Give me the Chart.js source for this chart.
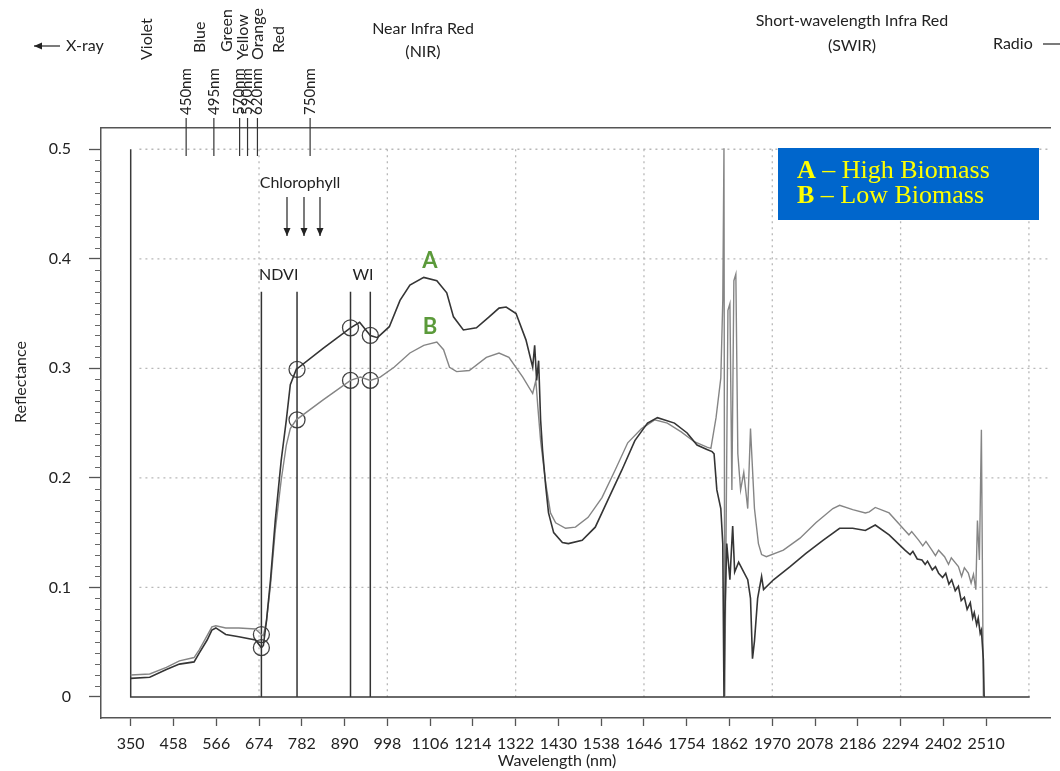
<!DOCTYPE html>
<html>
<head>
<meta charset="utf-8">
<title>Reflectance spectrum - high vs low biomass</title>
<script src="https://cdn.jsdelivr.net/npm/chart.js@4.4.1/dist/chart.umd.min.js"></script>
<style>
  html, body { margin: 0; padding: 0; background: #fff; }
  #wrap { width: 1060px; height: 771px; position: relative; }
</style>
</head>
<body>
<div id="wrap"><canvas id="spectrumChart"></canvas></div>
<script>
// ---------------- DATA -----------------------------
const xTickValues = [350, 458, 566, 674, 782, 890, 998, 1106, 1214, 1322, 1430, 1538, 1646, 1754, 1862, 1970, 2078, 2186, 2294, 2402, 2510];
const yTickValues = [0, 0.1, 0.2, 0.3, 0.4, 0.5];
const gridLinesX = [674, 998, 1322, 1646, 1970, 2294, 2618];
const gridLinesY = [0.1, 0.2, 0.3, 0.4, 0.5];

// A - high biomass
const wavelengthA = [350, 398, 440, 473, 510, 523, 543, 555, 565, 590, 623, 665, 680, 685, 693, 703, 715, 730, 743, 753,
  768, 835, 905, 928, 955, 973, 1003, 1030, 1055, 1090, 1123, 1148, 1165, 1190, 1223, 1255, 1280, 1298, 1323, 1348,
  1365, 1370, 1375, 1380, 1385, 1390, 1398, 1405, 1418, 1440, 1455, 1490, 1523, 1555, 1590, 1623, 1655, 1680, 1723, 1755,
  1780, 1805, 1818, 1823, 1830, 1840, 1845, 1848, 1850, 1855, 1863, 1870, 1875, 1885, 1898, 1908, 1915, 1920, 1925, 1933,
  1943, 1948, 1973, 2015, 2055, 2098, 2140, 2173, 2205, 2230, 2265, 2305, 2318, 2325, 2336, 2348, 2356, 2362, 2374, 2382,
  2390, 2400, 2408, 2416, 2423, 2432, 2440, 2447, 2455, 2462, 2470, 2476, 2480, 2486, 2490, 2495, 2498, 2503, 2505];
const reflectanceA = [0.017, 0.018, 0.025, 0.030, 0.032, 0.040, 0.052, 0.061, 0.063, 0.057, 0.055, 0.052, 0.045, 0.047, 0.070, 0.107, 0.161, 0.216, 0.253, 0.285,
  0.299, 0.318, 0.337, 0.342, 0.330, 0.328, 0.338, 0.362, 0.376, 0.383, 0.380, 0.369, 0.347, 0.335, 0.337, 0.347, 0.355, 0.356, 0.350, 0.326,
  0.301, 0.321, 0.289, 0.307, 0.253, 0.225, 0.192, 0.168, 0.150, 0.141, 0.140, 0.143, 0.155, 0.180, 0.207, 0.234, 0.250, 0.255, 0.250, 0.241,
  0.230, 0.226, 0.224, 0.222, 0.189, 0.172, 0.140, 0, 0.071, 0.140, 0.107, 0.156, 0.114, 0.123, 0.114, 0.107, 0.090, 0.035, 0.051, 0.090,
  0.110, 0.098, 0.107, 0.119, 0.131, 0.143, 0.154, 0.154, 0.152, 0.157, 0.148, 0.134, 0.130, 0.133, 0.126, 0.125, 0.121, 0.124, 0.116, 0.119,
  0.113, 0.109, 0.113, 0.103, 0.107, 0.097, 0.101, 0.088, 0.091, 0.080, 0.086, 0.072, 0.077, 0.066, 0.072, 0.058, 0.061, 0.034, 0];

// B - low biomass
const wavelengthB = [350, 398, 440, 473, 510, 523, 543, 555, 565, 590, 623, 665, 680, 685, 693, 703, 715, 730, 743, 753,
  768, 835, 905, 930, 955, 980, 1015, 1055, 1090, 1123, 1140, 1155, 1173, 1205, 1248, 1280, 1305, 1340, 1365, 1373,
  1378, 1385, 1398, 1410, 1423, 1448, 1473, 1505, 1540, 1573, 1605, 1640, 1673, 1705, 1740, 1773, 1805, 1815, 1828, 1840,
  1845, 1848, 1850, 1858, 1863, 1868, 1873, 1878, 1883, 1890, 1898, 1908, 1915, 1925, 1935, 1943, 1955, 1998, 2040, 2080,
  2123, 2140, 2173, 2205, 2215, 2230, 2265, 2305, 2315, 2322, 2340, 2350, 2358, 2373, 2382, 2390, 2405, 2415, 2422, 2440,
  2448, 2455, 2465, 2472, 2478, 2484, 2488, 2493, 2498, 2503];
const reflectanceB = [0.020, 0.021, 0.027, 0.033, 0.036, 0.043, 0.056, 0.064, 0.065, 0.063, 0.063, 0.062, 0.057, 0.056, 0.070, 0.102, 0.152, 0.198, 0.230, 0.245,
  0.253, 0.271, 0.289, 0.292, 0.289, 0.292, 0.301, 0.314, 0.321, 0.324, 0.317, 0.301, 0.297, 0.298, 0.310, 0.314, 0.310, 0.292, 0.277, 0.289,
  0.265, 0.234, 0.195, 0.168, 0.159, 0.154, 0.155, 0.164, 0.182, 0.207, 0.232, 0.245, 0.253, 0.250, 0.242, 0.233, 0.228, 0.227, 0.255, 0.291,
  0.362, 0.501, 0, 0.353, 0.359, 0.189, 0.380, 0.386, 0.222, 0.189, 0.205, 0.172, 0.245, 0.172, 0.140, 0.130, 0.128, 0.134, 0.145, 0.159,
  0.172, 0.175, 0.171, 0.168, 0.169, 0.173, 0.168, 0.152, 0.148, 0.151, 0.143, 0.138, 0.142, 0.134, 0.129, 0.134, 0.128, 0.121, 0.127, 0.119,
  0.110, 0.118, 0.113, 0.104, 0.112, 0.098, 0.161, 0.125, 0.244, 0];

// index bands (NDVI, WI) and the circled readings on them
const indexLineNm = [680, 770, 905, 955];
const indexLineTop = 0.37;
const circleNm = [680, 680, 770, 770, 905, 905, 955, 955];
const circleValue = [0.057, 0.045, 0.299, 0.253, 0.337, 0.289, 0.330, 0.289];

// baseline frame of the instrument plot
const frameNm = [350, 350, 2620];
const frameValue = [0.5, 0, 0];

// colour band names and wavelength markers above the plot
const bandNames = ["Violet", "Blue", "Green", "Yellow", "Orange", "Red"];
const bandNm = [392, 525, 592, 632, 672, 725];
const markerLabels = ["450nm", "495nm", "570nm", "590nm", "620nm", "750nm"];
const markerNm = [490, 560, 625, 645, 670, 803];

// ---------------- HELPERS -----------------------------
const toPoints = (xs, ys) => xs.map((v, i) => ({ x: v, y: ys[i] }));
const TEXT = "#222";
const FONT = "Lato";

const minorTicks = [];
for (let i = 1; i < 50; i++) if (i % 10 !== 0) minorTicks.push(i / 100);

// ---------------- ANNOTATION PLUGIN -----------------------------
const annotations = {
  id: "annotations",
  beforeDatasetsDraw(chart) {
    const { ctx, chartArea, scales: { x, y } } = chart;
    ctx.save();
    ctx.strokeStyle = "#b8b8b8";
    ctx.lineWidth = 1.3;
    ctx.setLineDash([2, 4]);
    gridLinesY.forEach((v) => {
      ctx.beginPath();
      ctx.moveTo(x.getPixelForValue(372), y.getPixelForValue(v));
      ctx.lineTo(chartArea.right, y.getPixelForValue(v));
      ctx.stroke();
    });
    gridLinesX.forEach((v) => {
      ctx.beginPath();
      ctx.moveTo(x.getPixelForValue(v), y.getPixelForValue(0.5));
      ctx.lineTo(x.getPixelForValue(v), y.getPixelForValue(0));
      ctx.stroke();
    });
    ctx.restore();
  },
  afterDraw(chart) {
    const { ctx, chartArea, scales: { x, y } } = chart;
    ctx.save();
    ctx.fillStyle = TEXT;
    ctx.strokeStyle = "#333";

    // minor ticks on the reflectance axis
    ctx.lineWidth = 1;
    ctx.strokeStyle = "#666";
    minorTicks.forEach((v) => {
      const py = Math.round(y.getPixelForValue(v)) + 0.5;
      ctx.beginPath();
      ctx.moveTo(chartArea.left - 6, py);
      ctx.lineTo(chartArea.left, py);
      ctx.stroke();
    });
    ctx.strokeStyle = "#333";

    // axis titles
    ctx.font = `16px ${FONT}`;
    ctx.textAlign = "center";
    ctx.textBaseline = "middle";
    ctx.fillText("Wavelength (nm)", 557, 761);
    ctx.save();
    ctx.translate(21, 382);
    ctx.rotate(-Math.PI / 2);
    ctx.fillText("Reflectance", 0, 0);
    ctx.restore();

    // band names, rotated
    ctx.font = `16px ${FONT}`;
    const bandBottom = [60, 53, 52, 60, 60, 53];
    bandNames.forEach((name, i) => {
      ctx.save();
      ctx.translate(x.getPixelForValue(bandNm[i]), bandBottom[i]);
      ctx.rotate(-Math.PI / 2);
      ctx.textAlign = "left";
      ctx.textBaseline = "middle";
      ctx.fillText(name, 0, 0);
      ctx.restore();
    });

    // wavelength markers
    ctx.font = `15px ${FONT}`;
    ctx.lineWidth = 1.2;
    markerLabels.forEach((lab, i) => {
      const px = x.getPixelForValue(markerNm[i]);
      ctx.save();
      ctx.translate(px, 115);
      ctx.rotate(-Math.PI / 2);
      ctx.textAlign = "left";
      ctx.textBaseline = "middle";
      ctx.fillText(lab, 0, 0);
      ctx.restore();
      ctx.beginPath();
      ctx.moveTo(px, 118);
      ctx.lineTo(px, 156);
      ctx.stroke();
    });

    // region headers
    ctx.font = `16px ${FONT}`;
    ctx.textAlign = "center";
    ctx.textBaseline = "middle";
    ctx.fillText("Near Infra Red", 423, 29);
    ctx.fillText("(NIR)", 423, 52);
    ctx.fillText("Short-wavelength Infra Red", 852, 21);
    ctx.fillText("(SWIR)", 852, 46);
    ctx.textAlign = "left";
    ctx.fillText("X-ray", 66, 46);
    ctx.fillText("Radio", 993, 44);

    const arrow = (x1, y1, x2, y2) => {
      ctx.beginPath();
      ctx.moveTo(x1, y1);
      ctx.lineTo(x2, y2);
      ctx.stroke();
      const a = Math.atan2(y2 - y1, x2 - x1);
      ctx.beginPath();
      ctx.moveTo(x2, y2);
      ctx.lineTo(x2 - 8 * Math.cos(a) + 3.5 * Math.sin(a), y2 - 8 * Math.sin(a) - 3.5 * Math.cos(a));
      ctx.lineTo(x2 - 8 * Math.cos(a) - 3.5 * Math.sin(a), y2 - 8 * Math.sin(a) + 3.5 * Math.cos(a));
      ctx.closePath();
      ctx.fill();
    };
    ctx.lineWidth = 1.3;
    arrow(60, 46, 34, 46);
    ctx.beginPath();
    ctx.moveTo(1043, 44);
    ctx.lineTo(1060, 44);
    ctx.stroke();

    // chlorophyll absorption arrows
    ctx.font = `16px ${FONT}`;
    ctx.textAlign = "center";
    ctx.fillText("Chlorophyll", 300, 183);
    [287, 304, 320].forEach((ax) => arrow(ax, 197, ax, 236));

    // index labels
    ctx.textAlign = "left";
    ctx.fillText("NDVI", 259, 275);
    ctx.textAlign = "center";
    ctx.fillText("WI", 363, 275);

    // curve labels
    ctx.fillStyle = "#5b9a3a";
    ctx.font = `bold 22px ${FONT}`;
    ctx.fillText("A", 430, 261);
    ctx.fillText("B", 430, 327);

    // legend box
    ctx.fillStyle = "#0066cc";
    ctx.fillRect(778, 148, 261, 72);
    ctx.fillStyle = "#ffff00";
    ctx.textAlign = "left";
    ctx.textBaseline = "alphabetic";
    const serif = '"Liberation Serif"';
    [["A", " \u2013 High Biomass", 178], ["B", " \u2013 Low Biomass", 203]].forEach(([b, rest, by]) => {
      ctx.font = `bold 26px ${serif}`;
      ctx.fillText(b, 797, by);
      const w = ctx.measureText(b).width;
      ctx.font = `26px ${serif}`;
      ctx.fillText(rest, 797 + w, by);
    });
    ctx.restore();
  },
};

// ---------------- CHART -----------------------------
const datasets = [
  {
    label: "A - High Biomass",
    data: toPoints(wavelengthA, reflectanceA),
    borderColor: "#353535",
    borderWidth: 1.6,
  },
  {
    label: "B - Low Biomass",
    data: toPoints(wavelengthB, reflectanceB),
    borderColor: "#858585",
    borderWidth: 1.4,
  },
  {
    label: "frame",
    data: toPoints(frameNm, frameValue),
    borderColor: "#3a3a3a",
    borderWidth: 1.5,
  },
  ...indexLineNm.map((nm) => ({
    label: "index line",
    data: [{ x: nm, y: 0 }, { x: nm, y: indexLineTop }],
    borderColor: "#333",
    borderWidth: 1.5,
  })),
  {
    label: "readings",
    data: toPoints(circleNm, circleValue),
    showLine: false,
    pointRadius: 8,
    pointBorderColor: "#444",
    pointBackgroundColor: "rgba(0,0,0,0)",
    pointBorderWidth: 1.3,
  },
];

const tickFont = { family: FONT, size: 16 };

const chartConfig = {
  type: "scatter",
  data: { datasets: datasets },
  options: {
    responsive: true,
    maintainAspectRatio: false,
    animation: false,
    layout: { padding: 0 },
    elements: {
      line: { tension: 0, fill: false },
      point: { radius: 0, hoverRadius: 0 },
    },
    datasets: { scatter: { showLine: true } },
    plugins: { legend: { display: false }, tooltip: { enabled: false } },
    scales: {
      x: {
        type: "linear",
        position: "bottom",
        min: 275,
        max: 2673,
        afterBuildTicks: (s) => { s.ticks = xTickValues.map((v) => ({ value: v })); },
        afterFit: (s) => { s.height = 53; },
        ticks: { font: tickFont, color: TEXT, padding: 8, maxRotation: 0, autoSkip: false, callback: (v) => v },
        grid: { drawOnChartArea: false, tickLength: 8, color: "#555", tickWidth: 1.3 },
        border: { display: true, color: "#555", width: 1.5 },
      },
      xTop: {
        type: "linear",
        position: "top",
        min: 275,
        max: 2673,
        afterFit: (s) => { s.height = 128; },
        ticks: { display: false },
        grid: { display: false },
        border: { display: true, color: "#555", width: 1.5 },
      },
      y: {
        type: "linear",
        position: "left",
        min: -0.0192,
        max: 0.5194,
        afterBuildTicks: (s) => { s.ticks = yTickValues.map((v) => ({ value: v })); },
        afterFit: (s) => { s.width = 101; },
        ticks: { font: tickFont, color: TEXT, padding: 18, callback: (v) => (v === 0 ? "0" : v.toFixed(1)) },
        grid: { drawOnChartArea: false, tickLength: 12, color: "#555", tickWidth: 1.3 },
        border: { display: true, color: "#555", width: 1.5 },
      },
    },
  },
  plugins: [annotations],
};

// RENDER THE CHART
const spectrumChart = new Chart(document.getElementById("spectrumChart"), chartConfig);
</script>
</body>
</html>
